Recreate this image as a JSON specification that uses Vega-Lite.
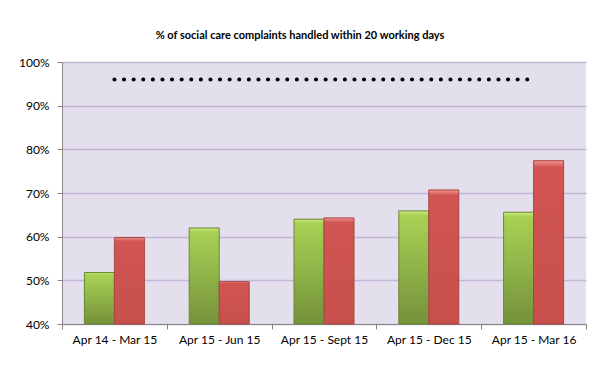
{
  "$schema": "https://vega.github.io/schema/vega-lite/v6.json",
  "width": 524,
  "height": 262,
  "autosize": {"type": "none"},
  "padding": {"left": 62, "top": 62, "right": 9, "bottom": 65},
  "background": "white",
  "title": {
    "text": "% of social care complaints handled within 20 working days",
    "font": "Lato",
    "fontSize": 11,
    "fontWeight": "bold",
    "color": "#000000",
    "anchor": "middle",
    "offset": 15,
    "dx": -24
  },
  "config": {"view": {"fill": "#E4DFEC", "stroke": null}, "font": "Lato"},
  "datasets": {
    "bars": [
      {"period": "Apr 14 - Mar 15", "series": "Series 1", "pct": 0.518},
      {"period": "Apr 14 - Mar 15", "series": "Series 2", "pct": 0.598},
      {"period": "Apr 15 - Jun 15", "series": "Series 1", "pct": 0.62},
      {"period": "Apr 15 - Jun 15", "series": "Series 2", "pct": 0.497},
      {"period": "Apr 15 - Sept 15", "series": "Series 1", "pct": 0.64},
      {"period": "Apr 15 - Sept 15", "series": "Series 2", "pct": 0.643},
      {"period": "Apr 15 - Dec 15", "series": "Series 1", "pct": 0.659},
      {"period": "Apr 15 - Dec 15", "series": "Series 2", "pct": 0.707},
      {"period": "Apr 15 - Mar 16", "series": "Series 1", "pct": 0.656},
      {"period": "Apr 15 - Mar 16", "series": "Series 2", "pct": 0.774}
    ],
    "target": [
      {"period": "Apr 14 - Mar 15", "pct": 0.96},
      {"period": "Apr 15 - Mar 16", "pct": 0.96}
    ]
  },
  "layer": [
    {
      "data": {"name": "bars"},
      "mark": {"type": "bar", "strokeWidth": 1},
      "encoding": {
        "x": {
          "field": "period",
          "type": "nominal",
          "sort": null,
          "scale": {
            "domain": ["Apr 14 - Mar 15", "Apr 15 - Jun 15", "Apr 15 - Sept 15", "Apr 15 - Dec 15", "Apr 15 - Mar 16"],
            "paddingInner": 0,
            "paddingOuter": 0
          },
          "axis": {
            "title": null,
            "labelAngle": 0,
            "labelFont": "Lato",
            "labelFontSize": 12,
            "labelColor": "#000000",
            "labelPadding": 5,
            "tickBand": "extent",
            "tickColor": "#868686",
            "tickSize": 5,
            "domainColor": "#868686",
            "grid": false
          }
        },
        "xOffset": {
          "field": "series",
          "type": "nominal",
          "scale": {"paddingInner": 0, "paddingOuter": 0.747}
        },
        "y": {
          "field": "pct",
          "type": "quantitative",
          "scale": {"domain": [0.4, 1]},
          "axis": {
            "title": null,
            "values": [0.4, 0.5, 0.6, 0.7, 0.8, 0.9, 1.0],
            "format": ".0%",
            "labelFont": "Lato",
            "labelFontSize": 12,
            "labelColor": "#000000",
            "labelPadding": 8,
            "tickColor": "#868686",
            "tickSize": 5,
            "domainColor": "#868686",
            "grid": true,
            "gridColor": "#C2B7D6",
            "gridWidth": 1.5
          }
        },
        "y2": {"datum": 0.4},
        "fill": {
          "condition": {
            "test": "datum.series === 'Series 1'",
            "value": {
              "gradient": "linear", "x1": 0, "y1": 0, "x2": 0, "y2": 1,
              "stops": [
                {"offset": 0, "color": "#CBE882"},
                {"offset": 0.04, "color": "#A9D154"},
                {"offset": 1, "color": "#74923B"}
              ]
            }
          },
          "value": {
            "gradient": "linear", "x1": 0, "y1": 0, "x2": 0, "y2": 1,
            "stops": [
              {"offset": 0, "color": "#F29592"},
              {"offset": 0.04, "color": "#D05553"},
              {"offset": 1, "color": "#C84F4C"}
            ]
          }
        },
        "stroke": {
          "condition": {"test": "datum.series === 'Series 1'", "value": "#6A8733"},
          "value": "#A94441"
        }
      }
    },
    {
      "data": {"name": "target"},
      "mark": {
        "type": "line",
        "strokeDash": [0.1, 9.5],
        "strokeCap": "round",
        "strokeWidth": 4,
        "color": "#000000"
      },
      "encoding": {
        "x": {"field": "period", "type": "nominal", "sort": null},
        "y": {"field": "pct", "type": "quantitative"}
      }
    }
  ]
}
